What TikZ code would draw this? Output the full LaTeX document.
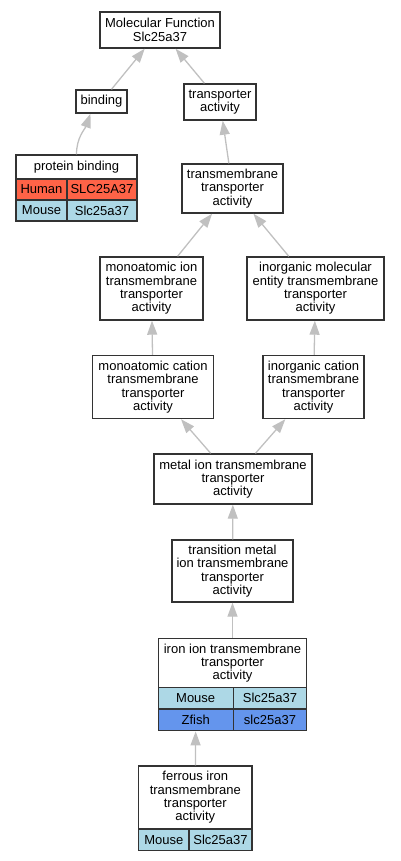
\documentclass[tikz,border=0pt]{standalone}
\usepackage{fontspec}
\setmainfont{Liberation Sans}
\usetikzlibrary{arrows.meta}
\definecolor{tomato}{HTML}{FF6347}
\definecolor{lblue}{HTML}{ADD8E6}
\definecolor{cfblue}{HTML}{6495ED}
\definecolor{edgegray}{HTML}{C0C0C0}
\definecolor{boxline}{HTML}{333333}
\begin{document}
\begin{tikzpicture}[x=1pt, y=1pt,
    term/.style={draw=boxline, line width=1.4pt, fill=white, align=center, inner sep=0pt,
      font=\fontsize{13}{13.3}\selectfont},
    cell/.style={term, line width=1.1pt},
    isa/.style={draw=edgegray, line width=1.3pt, -{Triangle[length=14pt,width=10pt]}}]
    \useasboundingbox (0,0) rectangle (400,-861);
    % 根节点
    \node[term, minimum width=120pt, minimum height=36pt] (mf) at (160,-30) {Molecular Function\\Slc25a37};
    % 第二层
    \node[term, minimum width=51pt, minimum height=23pt] (bind) at (101.5,-101.5) {binding};
    \node[term, minimum width=72pt, minimum height=36pt] (ta) at (220,-102) {transporter\\activity};
    % protein binding 表
    \node[term, minimum width=121pt, minimum height=24pt] (pbT) at (76.5,-167) {protein binding};
    \node[cell, fill=tomato, minimum width=51pt, minimum height=21pt] (pbHl) at (41.5,-189.5) {Human};
    \node[cell, fill=tomato, minimum width=70pt, minimum height=21pt] (pbHr) at (102,-189.5) {SLC25A37};
    \node[cell, fill=lblue, minimum width=51pt, minimum height=21pt] (pbMl) at (41.5,-210.5) {Mouse};
    \node[cell, fill=lblue, minimum width=70pt, minimum height=21pt] (pbMr) at (102,-210.5) {Slc25a37};
    % 跨膜转运
    \node[term, minimum width=101pt, minimum height=49pt] (tta) at (232.5,-188.5) {transmembrane\\transporter\\activity};
    \node[term, minimum width=103pt, minimum height=63pt] (mia) at (151.5,-288.5) {monoatomic ion\\transmembrane\\transporter\\activity};
    \node[term, minimum width=137pt, minimum height=63pt] (imeta) at (315.5,-288.5) {inorganic molecular\\entity transmembrane\\transporter\\activity};
    \node[term, minimum width=121pt, minimum height=63pt] (mca) at (153,-387) {monoatomic cation\\transmembrane\\transporter\\activity};
    \node[term, minimum width=101pt, minimum height=63pt] (ica) at (313.5,-387) {inorganic cation\\transmembrane\\transporter\\activity};
    \node[term, minimum width=158pt, minimum height=50pt] (metal) at (233,-479) {metal ion transmembrane\\transporter\\activity};
    \node[term, minimum width=121pt, minimum height=62pt] (trans) at (232.5,-571) {transition metal\\ion transmembrane\\transporter\\activity};
    % iron ion 表
    \node[term, minimum width=148pt, minimum height=49pt] (ironT) at (232.5,-663) {iron ion transmembrane\\transporter\\activity};
    \node[cell, fill=lblue, minimum width=74.7pt, minimum height=21.7pt] (ironMl) at (195.7,-698) {Mouse};
    \node[cell, fill=lblue, minimum width=73.7pt, minimum height=21.7pt] (ironMr) at (270,-698) {Slc25a37};
    \node[cell, fill=cfblue, minimum width=74.7pt, minimum height=21.7pt] (ironZl) at (195.7,-720) {Zfish};
    \node[cell, fill=cfblue, minimum width=73.7pt, minimum height=21.7pt] (ironZr) at (270,-720) {slc25a37};
    % ferrous iron 表
    \node[term, minimum width=113.3pt, minimum height=63pt] (ferT) at (195.3,-797.5) {ferrous iron\\transmembrane\\transporter\\activity};
    \node[cell, fill=lblue, minimum width=50.3pt, minimum height=21.7pt] (ferMl) at (163.8,-840) {Mouse};
    \node[cell, fill=lblue, minimum width=63pt, minimum height=21.7pt] (ferMr) at (220.5,-840) {Slc25a37};
    % 连线
    \draw[isa] (bind) -- (mf);
    \draw[isa] (ta) -- (mf);
    \draw[isa] (pbT.north) to[out=90, in=-110] ([xshift=-11pt]bind.south);
    \draw[isa] (tta) -- (ta);
    \draw[isa] (mia) -- (tta);
    \draw[isa] (imeta) -- (tta);
    \draw[isa] (mca) -- (mia);
    \draw[isa] (ica) -- (imeta);
    \draw[isa] (metal) -- (mca);
    \draw[isa] (metal) -- (ica);
    \draw[isa] (trans) -- (metal);
    \draw[isa] (ironT) -- (trans);
    \draw[isa] (ferT) -- (ironZl);
\end{tikzpicture}
\end{document}
